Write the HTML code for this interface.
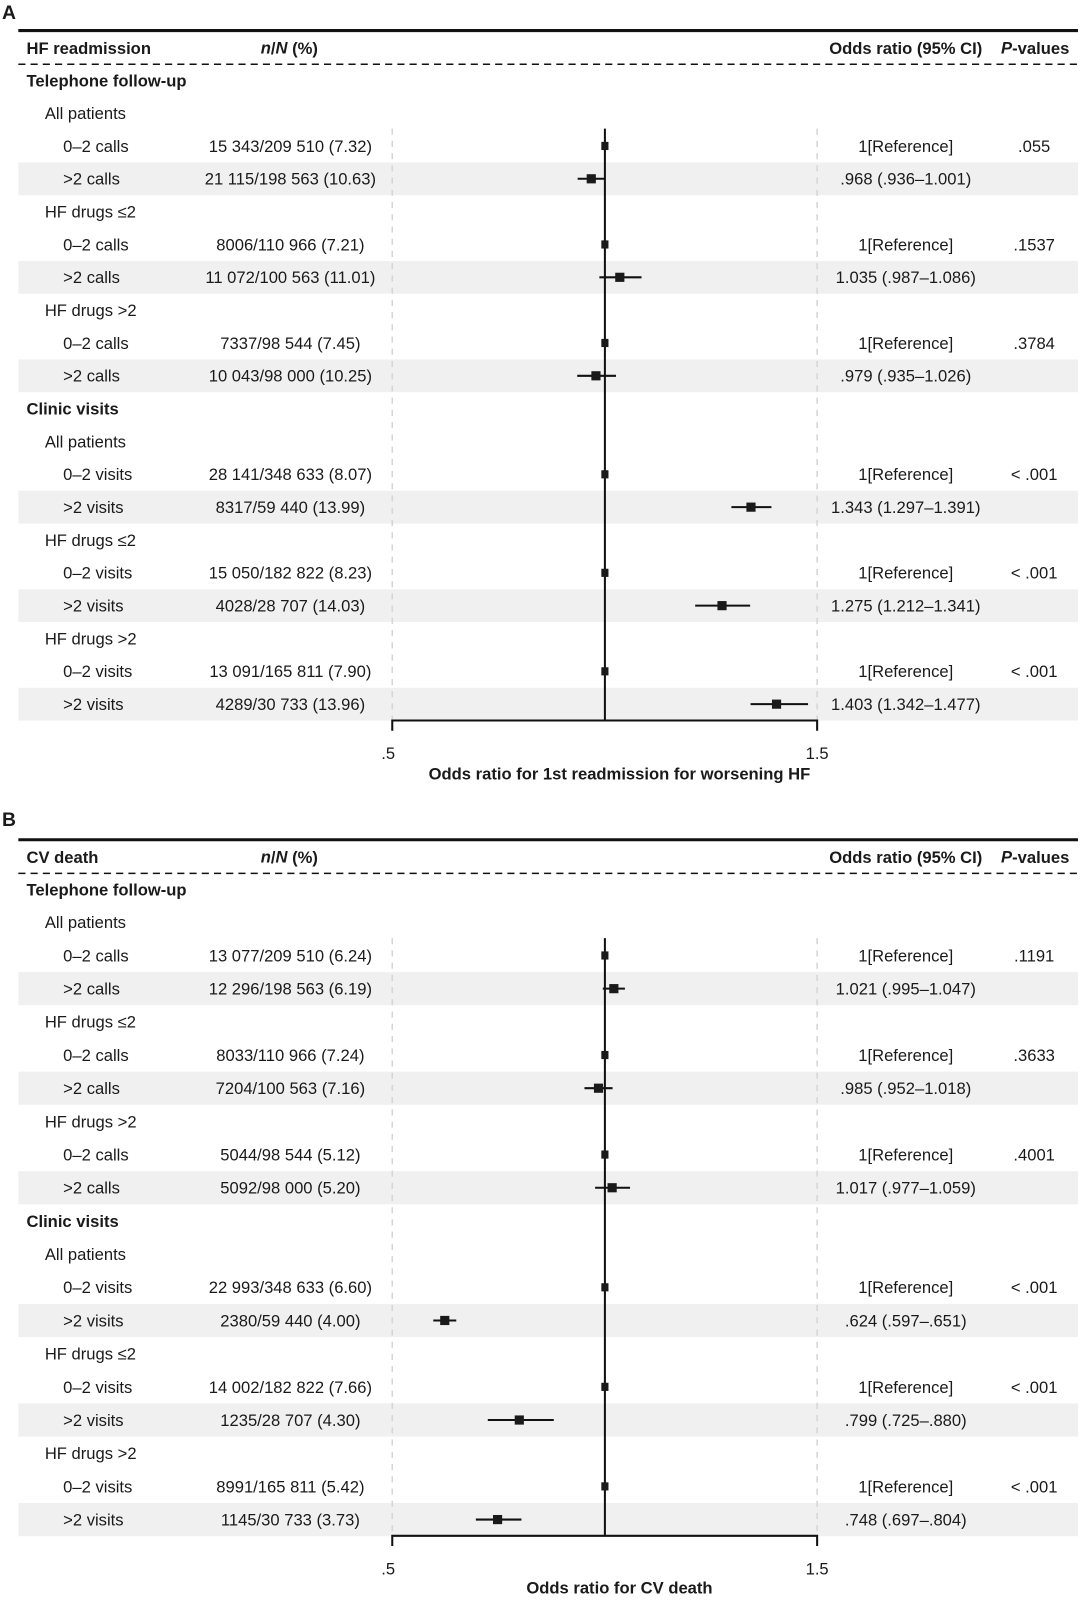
<!DOCTYPE html>
<html><head><meta charset="utf-8"><style>
html,body{margin:0;padding:0;background:#fff;width:1080px;height:1600px;overflow:hidden}
svg{display:block}
text{font-family:"Liberation Sans",sans-serif;fill:#1a1a1a;font-size:16.3px}
.b{font-weight:bold}
.L{font-weight:bold;font-size:19px}
</style></head><body>
<svg id="s" width="1080" height="1600" viewBox="0 0 1060 1570" preserveAspectRatio="none" xmlns="http://www.w3.org/2000/svg"></svg>
<script>
var X0=593.7,S=418;function xp(v){return X0+(v-1)*S;}
var h='';
function T(x,y,t,a,c){y+=1.5;h+='<text x="'+x+'" y="'+y+'" dominant-baseline="middle"'+(a?' text-anchor="'+a+'"':'')+(c?' class="'+c+'"':'')+'>'+t+'</text>';}
function panel(o){
 var b=o.base,sp=o.sp;
 T(2,o.lab,o.L,null,'L');
 h+='<line x1="18" x2="1058" y1="'+o.top+'" y2="'+o.top+'" stroke="#111" stroke-width="3"/>';
 T(26,o.head,o.title,null,'b');
 h+='<text x="284" y="'+(o.head+1.5)+'" dominant-baseline="middle" text-anchor="middle" class="b"><tspan font-style="italic">n</tspan>/<tspan font-style="italic">N</tspan> (%)</text>';
 T(889,o.head,'Odds ratio (95% CI)','middle','b');
 h+='<text x="1016" y="'+(o.head+1.5)+'" dominant-baseline="middle" text-anchor="middle" class="b"><tspan font-style="italic">P</tspan>-values</text>';
 h+='<line x1="18" x2="1058" y1="'+o.dash+'" y2="'+o.dash+'" stroke="#111" stroke-width="1.5" stroke-dasharray="7,5"/>';
 T(26,o.tel,'Telephone follow-up',null,'b');
 var rows=o.rows,axY=o.ax;
 rows.forEach(function(r,i){var y=b+i*sp;if(r[0]==3&&r[1].charAt(0)=='>')h+='<rect x="18" y="'+(y-sp/2)+'" width="1040" height="'+sp+'" fill="#f0f0f0"/>';});
 var y0=b+sp-17;
 h+='<line x1="385" x2="385" y1="'+y0+'" y2="'+axY+'" stroke="#d5d5d5" stroke-width="1.5" stroke-dasharray="6,6"/>';
 h+='<line x1="802" x2="802" y1="'+y0+'" y2="'+axY+'" stroke="#d5d5d5" stroke-width="1.5" stroke-dasharray="6,6"/>';
 h+='<line x1="'+X0+'" x2="'+X0+'" y1="'+y0+'" y2="'+axY+'" stroke="#111" stroke-width="2"/>';
 h+='<path d="M385 '+(axY+10)+'V'+axY+'H802V'+(axY+10)+'" fill="none" stroke="#111" stroke-width="2"/>';
 T(381,o.tk,'.5','middle');T(802,o.tk,'1.5','middle');
 T(608,o.xt,o.xtitle,'middle','b');
 rows.forEach(function(r,i){var y=b+i*sp;
  if(r[0]==1){T(26,y,r[1],null,'b');return;}
  if(r[0]==2){T(44,y,r[1]);return;}
  T(62,y,r[1]);T(285,y,r[2],'middle');
  if(r[3]==null){T(889,y,'1[Reference]','middle');T(1015,y,r[6],'middle');
   h+='<rect x="'+(X0-3.5)+'" y="'+(y-4)+'" width="7" height="8" fill="#1a1a1a"/>';}
  else{var s=r[3];T(889,y,r[7],'middle');
   h+='<line x1="'+xp(r[4])+'" x2="'+xp(r[5])+'" y1="'+y+'" y2="'+y+'" stroke="#111" stroke-width="2"/>';
   h+='<rect x="'+(xp(s)-4.5)+'" y="'+(y-4.5)+'" width="9" height="9" fill="#1a1a1a"/>';}
 });
}
panel({L:'A',lab:12,top:30,head:47,dash:63,tel:79,title:'HF readmission',base:111,sp:32.22,ax:707,tk:739,xt:759,xtitle:'Odds ratio for 1st readmission for worsening HF',
rows:[[2,'All patients'],[3,'0–2 calls','15 343/209 510 (7.32)',null,0,0,'.055'],[3,'>2 calls','21 115/198 563 (10.63)',.968,.936,1.001,'','.968 (.936–1.001)'],
[2,'HF drugs ≤2'],[3,'0–2 calls','8006/110 966 (7.21)',null,0,0,'.1537'],[3,'>2 calls','11 072/100 563 (11.01)',1.035,.987,1.086,'','1.035 (.987–1.086)'],
[2,'HF drugs >2'],[3,'0–2 calls','7337/98 544 (7.45)',null,0,0,'.3784'],[3,'>2 calls','10 043/98 000 (10.25)',.979,.935,1.026,'','.979 (.935–1.026)'],
[1,'Clinic visits'],[2,'All patients'],[3,'0–2 visits','28 141/348 633 (8.07)',null,0,0,'&lt; .001'],[3,'>2 visits','8317/59 440 (13.99)',1.343,1.297,1.391,'','1.343 (1.297–1.391)'],
[2,'HF drugs ≤2'],[3,'0–2 visits','15 050/182 822 (8.23)',null,0,0,'&lt; .001'],[3,'>2 visits','4028/28 707 (14.03)',1.275,1.212,1.341,'','1.275 (1.212–1.341)'],
[2,'HF drugs >2'],[3,'0–2 visits','13 091/165 811 (7.90)',null,0,0,'&lt; .001'],[3,'>2 visits','4289/30 733 (13.96)',1.403,1.342,1.477,'','1.403 (1.342–1.477)']]});
panel({L:'B',lab:804,top:824,head:841,dash:857,tel:873,title:'CV death',base:905,sp:32.56,ax:1507,tk:1539,xt:1558,xtitle:'Odds ratio for CV death',
rows:[[2,'All patients'],[3,'0–2 calls','13 077/209 510 (6.24)',null,0,0,'.1191'],[3,'>2 calls','12 296/198 563 (6.19)',1.021,.995,1.047,'','1.021 (.995–1.047)'],
[2,'HF drugs ≤2'],[3,'0–2 calls','8033/110 966 (7.24)',null,0,0,'.3633'],[3,'>2 calls','7204/100 563 (7.16)',.985,.952,1.018,'','.985 (.952–1.018)'],
[2,'HF drugs >2'],[3,'0–2 calls','5044/98 544 (5.12)',null,0,0,'.4001'],[3,'>2 calls','5092/98 000 (5.20)',1.017,.977,1.059,'','1.017 (.977–1.059)'],
[1,'Clinic visits'],[2,'All patients'],[3,'0–2 visits','22 993/348 633 (6.60)',null,0,0,'&lt; .001'],[3,'>2 visits','2380/59 440 (4.00)',.624,.597,.651,'','.624 (.597–.651)'],
[2,'HF drugs ≤2'],[3,'0–2 visits','14 002/182 822 (7.66)',null,0,0,'&lt; .001'],[3,'>2 visits','1235/28 707 (4.30)',.799,.725,.880,'','.799 (.725–.880)'],
[2,'HF drugs >2'],[3,'0–2 visits','8991/165 811 (5.42)',null,0,0,'&lt; .001'],[3,'>2 visits','1145/30 733 (3.73)',.748,.697,.804,'','.748 (.697–.804)']]});
document.getElementById('s').innerHTML=h.replace(/>>2/g,'>&gt;2');
</script>
</body></html>
